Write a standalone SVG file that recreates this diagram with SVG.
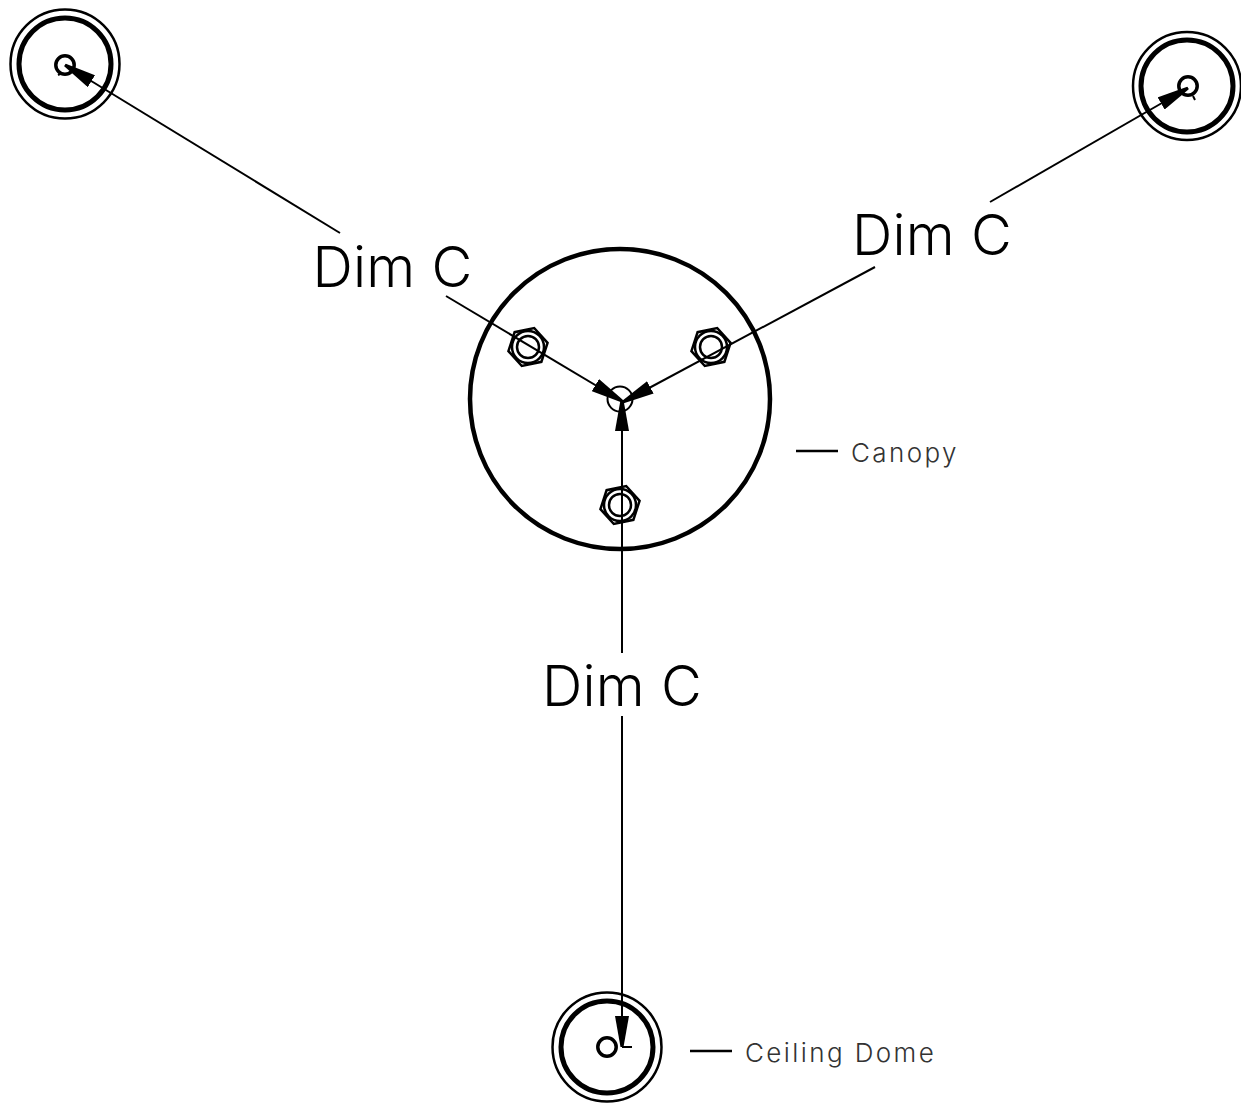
<svg xmlns="http://www.w3.org/2000/svg" width="1241" height="1103" viewBox="0 0 1241 1103">
<style>
.bg{fill:#fff}
.o{fill:none;stroke:#000;stroke-width:2.500}
.t{fill:none;stroke:#000;stroke-width:5}
.h{fill:#fff;stroke:#000;stroke-width:3.500}
.c{fill:none;stroke:#000;stroke-width:2}
.n{fill:none;stroke:#000;stroke-width:2.500}
.dim{font-family:Inter,"Open Sans",sans-serif;font-weight:280;font-size:56px;fill:#000;text-anchor:middle;letter-spacing:.3px}
.lab{font-family:Inter,"Open Sans",sans-serif;font-weight:300;font-size:26px;letter-spacing:2.400px;fill:#333}
.lead{stroke:#000;stroke-width:2.500;fill:none}
</style>
<defs>
<marker id="a" markerUnits="userSpaceOnUse" markerWidth="33" markerHeight="14" refX="31" refY="7" orient="auto"><path d="M0 0L31 5.500L31 8.500L0 14Z" fill="#000"/></marker>
<polygon id="hex" points="20,0 10,17.300 -10,17.300 -20,0 -10,-17.300 10,-17.300"/>
</defs>
<rect class="bg" width="1241" height="1103"/>
<g id="dome-top-left"><circle class="o" cx="65" cy="64" r="54.500"/><circle class="t" cx="65" cy="64" r="46"/><circle class="h" cx="65" cy="65" r="9.200"/><path class="c" d="M60 74L58 75"/></g>
<g id="dome-top-right"><circle class="o" cx="1187" cy="86" r="54"/><circle class="t" cx="1187" cy="86" r="46"/><circle class="h" cx="1188" cy="86" r="9.200"/><path class="c" d="M1193 96L1195 100"/></g>
<g id="dome-bottom"><circle class="o" cx="607" cy="1047" r="54.500"/><circle class="t" cx="607" cy="1047" r="46"/><circle class="h" cx="607" cy="1047" r="9.200"/></g>
<g id="canopy"><circle fill="none" stroke="#000" stroke-width="4.500" cx="620" cy="399" r="150"/><circle class="c" cx="620" cy="399" r="12.500"/></g>
<g id="nut-left"><use href="#hex" class="n" transform="translate(528 347) rotate(-12)"/><circle class="n" cx="528" cy="347" r="16"/><circle class="n" cx="528" cy="347" r="11"/></g>
<g id="nut-right"><use href="#hex" class="n" transform="translate(711 347) rotate(-12)"/><circle class="n" cx="711" cy="347" r="16"/><circle class="n" cx="711" cy="347" r="11"/></g>
<g id="nut-bottom"><use href="#hex" class="n" transform="translate(620 505) rotate(-12)"/><circle class="n" cx="620" cy="505" r="16"/><circle class="n" cx="620" cy="505" r="11"/></g>
<g id="connectors" class="c">
<line x1="340" y1="233" x2="65" y2="65" marker-end="url(#a)"/>
<line x1="446" y1="296" x2="622" y2="401" marker-end="url(#a)"/>
<line x1="990" y1="202" x2="1188" y2="88" marker-end="url(#a)"/>
<line x1="875" y1="267" x2="623" y2="402" marker-end="url(#a)"/>
<line x1="622" y1="653" x2="622" y2="400" marker-end="url(#a)"/>
<line x1="622" y1="716" x2="622" y2="1047" marker-end="url(#a)"/>
<line x1="622" y1="1047" x2="632" y2="1047"/>
</g>
<g id="label-top-left"><text class="dim" x="392.500" y="287">Dim C</text></g>
<g id="label-top-right"><text class="dim" x="932" y="255">Dim C</text></g>
<g id="label-bottom"><text class="dim" x="622" y="706">Dim C</text></g>
<g id="label-canopy"><line class="lead" x1="796" y1="451" x2="838" y2="451"/><text class="lab" x="851" y="462">Canopy</text></g>
<g id="label-ceiling-dome"><line class="lead" x1="690" y1="1051" x2="732" y2="1051"/><text class="lab" x="745" y="1062">Ceiling Dome</text></g>
</svg>
